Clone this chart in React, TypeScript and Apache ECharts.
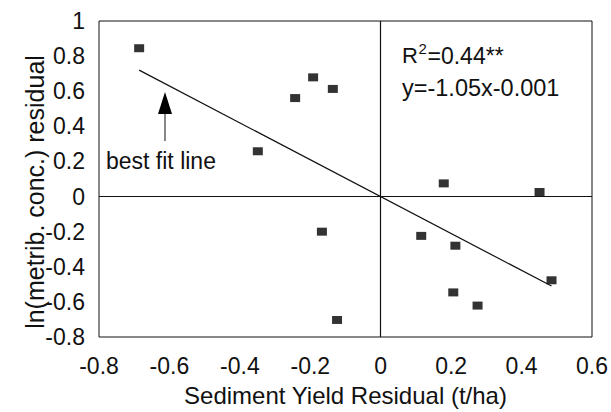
import React, { useEffect, useRef } from "react";
import * as echarts from "echarts";

const xValues = [-0.686, -0.192, -0.136, -0.243, -0.349, 0.179, 0.451, -0.167, 0.115, 0.212, 0.485, 0.206, 0.275, -0.124];
const yValues = [0.845, 0.679, 0.613, 0.561, 0.258, 0.075, 0.026, -0.2, -0.224, -0.28, -0.477, -0.546, -0.621, -0.703];
const fitX = [-0.686, 0.485];
const fitY = [0.72, -0.51];
const xTicks = [-0.8, -0.6, -0.4, -0.2, 0, 0.2, 0.4, 0.6];
const yTicks = [-0.8, -0.6, -0.4, -0.2, 0, 0.2, 0.4, 0.6, 0.8, 1];

const FONT = "Liberation Sans, Arial, Helvetica, sans-serif";

export default function App() {
  const ref = useRef<HTMLDivElement>(null);
  useEffect(() => {
    if (!ref.current) return;
    const chart = echarts.init(ref.current, undefined, { renderer: "svg" });
    const points = xValues.map((x, i) => [x, yValues[i]]);
    const fit = fitX.map((x, i) => [x, fitY[i]]);
    const fmt = (v: number) => {
      const r = Math.round(v * 10) / 10;
      return r === 0 ? "0" : String(r);
    };
    chart.setOption({
      animation: false,
      backgroundColor: "#ffffff",
      grid: {
        left: 99,
        right: 16,
        top: 21,
        bottom: 70,
        show: true,
        borderColor: "#111",
        borderWidth: 1,
        backgroundColor: "transparent",
      },
      xAxis: {
        type: "value",
        min: -0.8,
        max: 0.6,
        interval: 0.2,
        name: "Sediment Yield Residual (t/ha)",
        nameLocation: "middle",
        nameGap: 46,
        nameTextStyle: { fontFamily: FONT, fontSize: 24, color: "#111" },
        axisLine: { show: false },
        axisTick: { show: false },
        splitLine: { show: false },
        axisLabel: {
          fontFamily: FONT,
          fontSize: 23,
          color: "#111",
          margin: 17,
          formatter: fmt,
          customValues: xTicks,
        },
      },
      yAxis: {
        type: "value",
        min: -0.8,
        max: 1,
        interval: 0.2,
        axisLine: { show: false },
        axisTick: { show: false },
        splitLine: { show: false },
        axisLabel: {
          fontFamily: FONT,
          fontSize: 23,
          color: "#111",
          margin: 14,
          formatter: fmt,
          customValues: yTicks,
        },
      },
      series: [
        {
          type: "line",
          data: fit,
          showSymbol: false,
          symbol: "none",
          lineStyle: { color: "#111", width: 1.2 },
          silent: true,
          markLine: {
            silent: true,
            symbol: ["none", "none"],
            label: { show: false },
            lineStyle: { color: "#111", width: 1.2, type: "solid" },
            data: [{ xAxis: 0 }, { yAxis: 0 }],
          },
        },
        {
          type: "scatter",
          data: points,
          symbol: "rect",
          symbolSize: [10, 8],
          itemStyle: { color: "#000" },
        },
      ],
      graphic: [
        {
          type: "text",
          x: 35,
          y: 192,
          rotation: Math.PI / 2,
          style: {
            text: "ln(metrib. conc.) residual",
            font: `25px ${FONT}`,
            fill: "#111",
            align: "center",
            verticalAlign: "middle",
          },
        },
        {
          type: "text",
          x: 402,
          y: 55.5,
          style: { text: "R", font: `22px ${FONT}`, fill: "#111", align: "left", verticalAlign: "middle" },
        },
        {
          type: "text",
          x: 418.5,
          y: 48.5,
          style: { text: "2", font: `15px ${FONT}`, fill: "#111", align: "left", verticalAlign: "middle" },
        },
        {
          type: "text",
          x: 427.5,
          y: 55.5,
          style: { text: "=0.44**", font: `23px ${FONT}`, fill: "#111", align: "left", verticalAlign: "middle" },
        },
        {
          type: "text",
          x: 402,
          y: 87.5,
          style: { text: "y=-1.05x-0.001", font: `23.5px ${FONT}`, fill: "#111", align: "left", verticalAlign: "middle" },
        },
        {
          type: "text",
          x: 106,
          y: 160.5,
          style: { text: "best fit line", font: `23px ${FONT}`, fill: "#111", align: "left", verticalAlign: "middle" },
        },
        {
          type: "line",
          shape: { x1: 165, y1: 113, x2: 165, y2: 141 },
          style: { stroke: "#111", lineWidth: 1 },
        },
        {
          type: "polygon",
          shape: { points: [[165, 92], [158, 114], [172, 114]] },
          style: { fill: "#000" },
        },
      ],
    });
    return () => chart.dispose();
  }, []);
  return <div ref={ref} style={{ width: 611, height: 412, position: "absolute", left: 0, top: 0 }} />;
}
